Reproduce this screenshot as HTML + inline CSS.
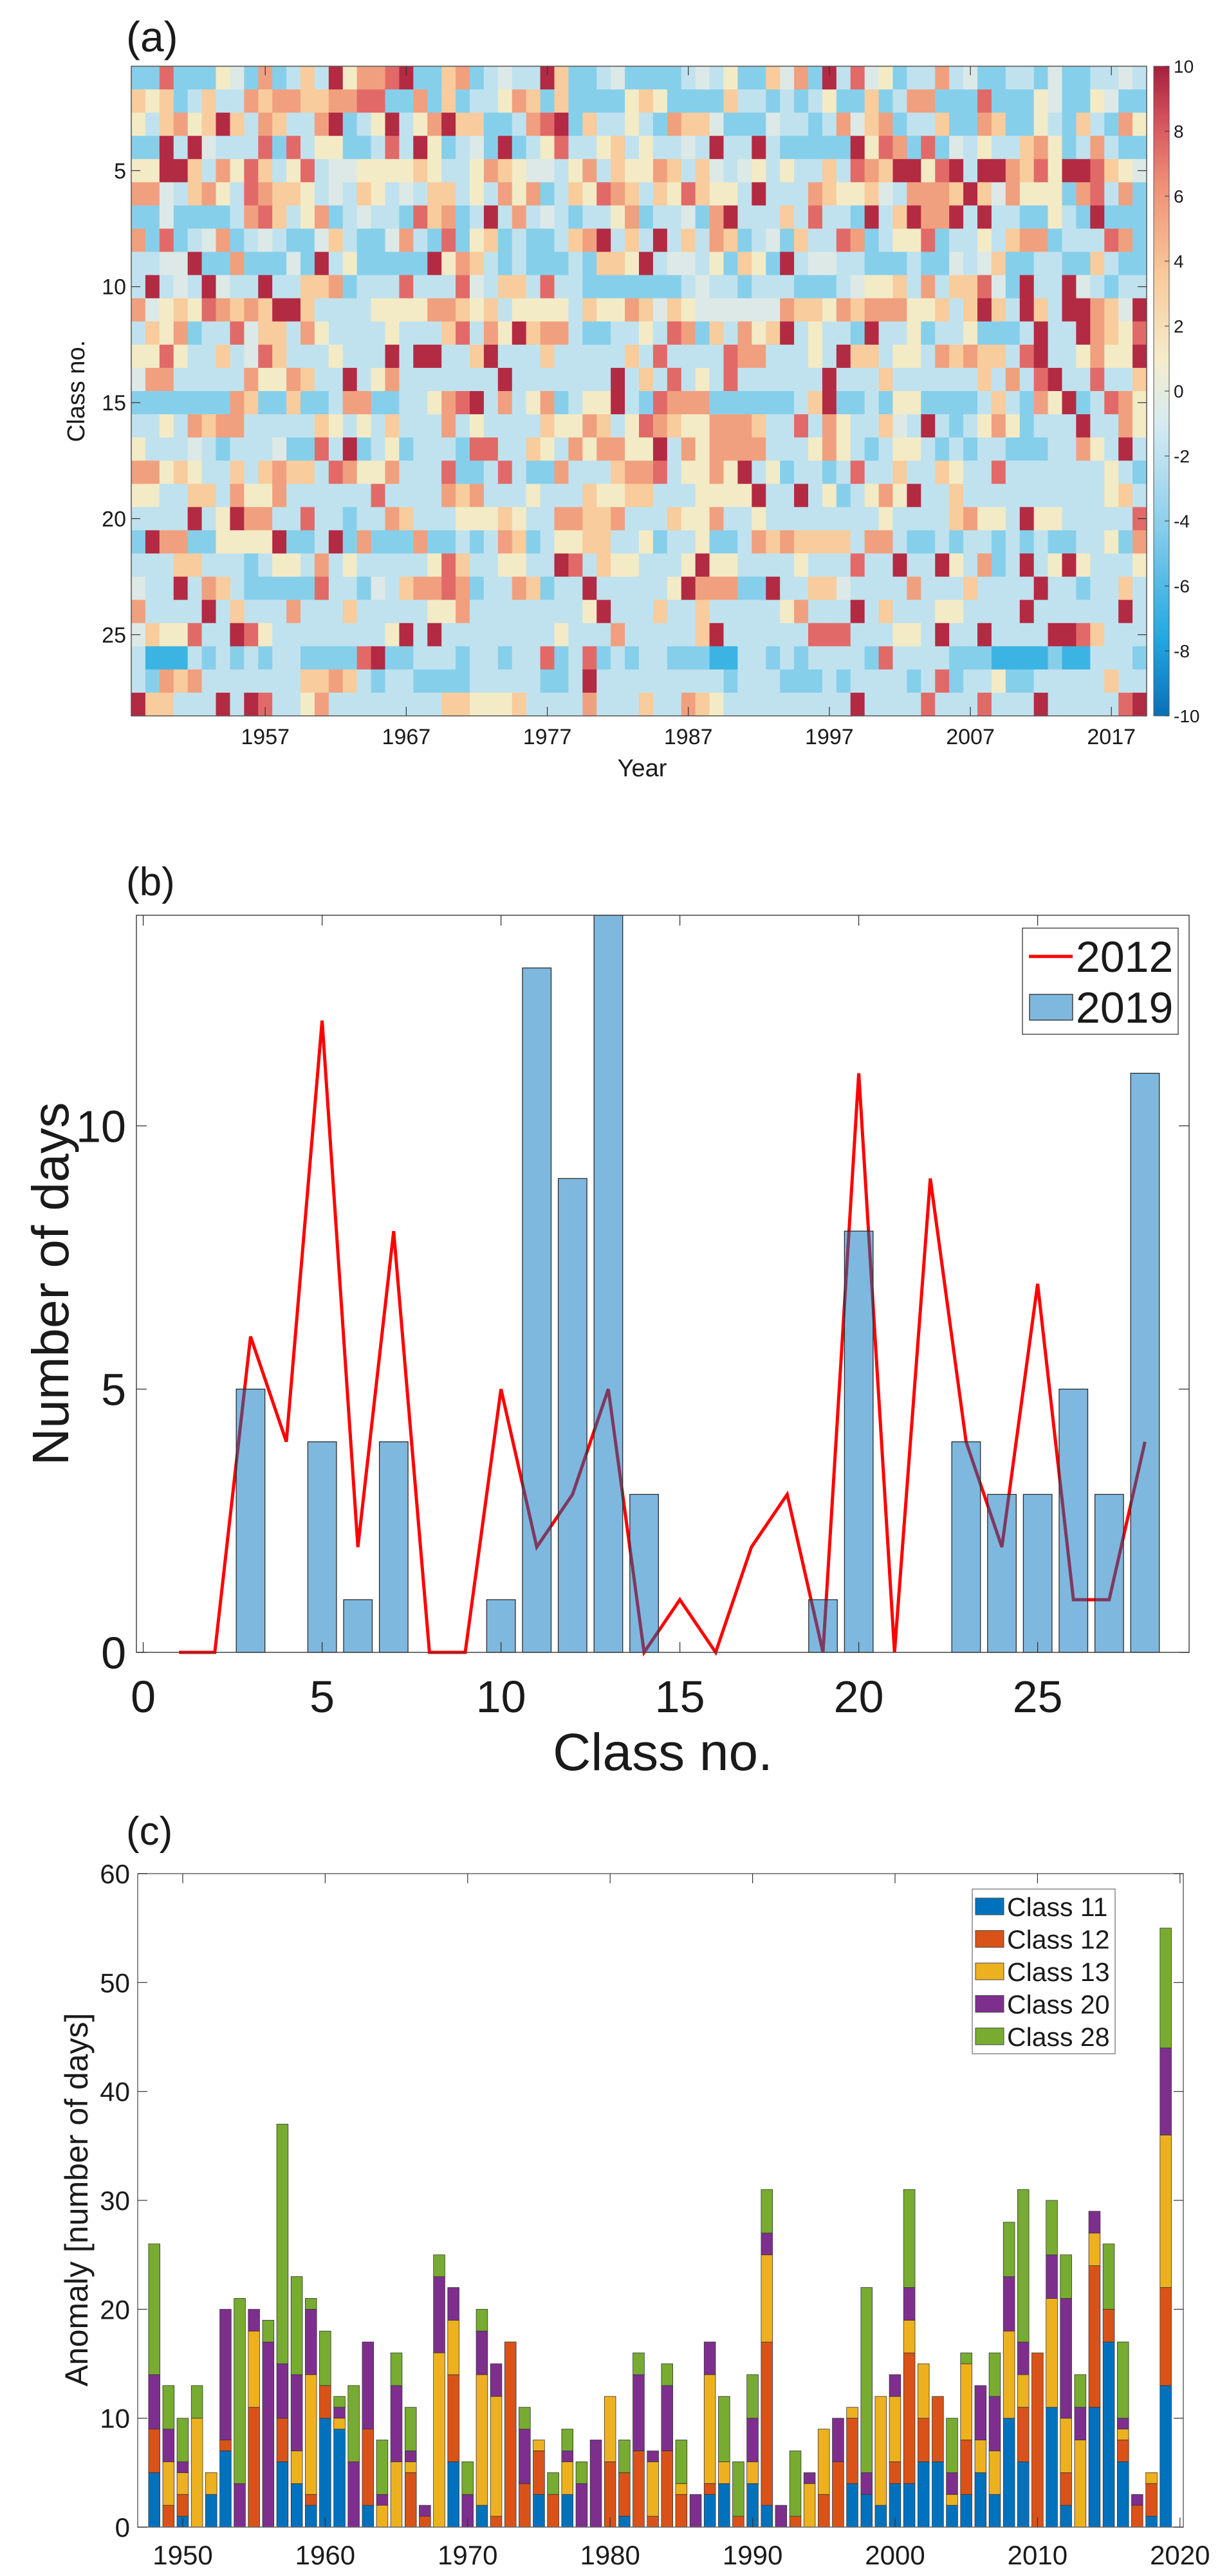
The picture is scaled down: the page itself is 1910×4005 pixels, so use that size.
<!DOCTYPE html>
<html><head><meta charset="utf-8"><style>
html,body{margin:0;padding:0;background:#fff}
svg{display:block}
text{font-family:"Liberation Sans",sans-serif;fill:#1a1a1a}
</style></head><body>
<svg id="fig" width="1910" height="4005" viewBox="0 0 1910 4005" xmlns="http://www.w3.org/2000/svg">
<defs>
<linearGradient id="cbgrad" x1="0" y1="1" x2="0" y2="0">
<stop offset="0" stop-color="#0a6fb8"/><stop offset="0.12" stop-color="#22a8e0"/><stop offset="0.3" stop-color="#8ed0ec"/>
<stop offset="0.45" stop-color="#d6ebf1"/><stop offset="0.55" stop-color="#f5eccb"/><stop offset="0.68" stop-color="#f8c99a"/>
<stop offset="0.82" stop-color="#ee8f76"/><stop offset="0.92" stop-color="#d4505a"/><stop offset="1" stop-color="#a51f3c"/>
</linearGradient>
</defs>
<g id="pa"></g>
<g id="pb"></g>
<g id="pc"></g>
</svg>
<script>
// ---------- Panel (a) data ----------
const heatYears = Array.from({length:72},(_,i)=>1948+i);
const heatXTicks = [1957,1967,1977,1987,1997,2007,2017];
const heatYTicks = [5,10,15,20,25];
const cbTicks = [10,8,6,4,2,0,-2,-4,-6,-8,-10];
// level codes per class row (1..28), 72 years each
const heatRows = [
"BBrBBBywBoBbpbRyoorRBBpoBbwbbRpBBbwBBBBbwbyBBpwoBRbrwyBbbobwBBbbBwBBbbwb",
"pypBbpbbopooppoorrBBoBpBbbyopBpBBBBypyBBBBpbbBbBbyBBpBbooBBBrBBBywBBywBB",
"ybpoypRpbopbboRBbyRbyoRppBBborRBpbbybBoppwBBBwbbBbowpoBbbpBBopBBybBpbBoy",
"BBRbRwbbbrBrbyyBBbrbRyBbwBRBbyrbbypbybbwbRbbRbBBBBBRyroBrBwbybbpoyBbobBB",
"yyRRpboyrpbyrbwwyyyypybbyopywwbyobpyyopbpwbwybybbpbropRRyrRbRRopryRRrpyw",
"oowbpoybroppybwbpybwbppbyboyoBbpyropbpyrpyybRbbbopyypwbooopRpwoyyyBorboB",
"BBwBBBBborpbyoBbwbbBrpoBbRbobwbBbbyoBbbwBoRbbbpbrbbBRbpRooRbRbbBBybBRBBB",
"oBrBbwoBbwbBBwpbBBwobBrBypBbBBbpoRbpbRbpbopBbwBpbbroBbyyrBbbybpooBbbbroB",
"bbwwRBBoBBBwBRbyBBBBBRyopbBbBBBbBppyRbwwbyBpyBRbwwbbBBBbBBwbwpBBbbBBpbBB",
"bRbwbRwbbRbbppoBbbbrbbbrwbppbrbbBBBBBBBbwbbBbbbBBBbwyypbobpprwBRbbRwbBbb",
"owypyropopRRpbbbbyyyyoopypbyyyybpyyopwpywwwwwwoppyopoooyypbpRpbRpbRRopwR",
"bpyoBbbrwppboybbbbybbbprboyRpoobBBbbybroBpboypRbybbBRbbyBbbyBBBbRbbRopyr",
"yyrybbpbwrpbbbybbbRbRRbbpRbbbpbbbbbpbrbbbbroobbbybRppbyybopoppbrRbbyoyyR",
"woobbbbboyyopbbRbyobbbbbbbRbbbbbbbRbpbrbybrbbbbbbRbbbpbbbbbbpbobrRbbrbbp",
"BBBBBBBopBBpBBbooBBbbyorRbobyoBbyyRbBroooBBBBBBbpRBBbByyBBBBbpbBoyRBbroy",
"bbybopoobbbbbpybybpbbbobybbbbpyyopbyropyyooopbbrboybbpwbRbBbyoyBbbbRbboy",
"ybbbwbBbbbwBBrbRBbyBbbbBrrbbpyboyooyyRboyoooobbbyoybBbyybBbBbbBBBbboybRb",
"ooypybbpbpoppbroyyobbbrBBbrbBBobbbpoorbyyoyRbyBbbBbrbbpbbpybbrbbbbbbbybB",
"yybbppboyyobbbbbbrbbbbopobbbybbbpyyppbbbyyyyRbbRbyBbyoyRbbpbbbbbbbbbbypb",
"bbbbRbyRoobbrbbBbbopbbbyyypybbooppobbbpyyobbybbbbbbbbybbbbpoyybRyybbbbbr",
"BRooBByyyyRBBbRBoBBBoBBbBbopBbyyppbbyBbbyBBbopoppppboobBBbBbbBbBbBBbbyBo",
"bbbppbbbBbyybobybbbbbyrpbbyybbRrbpyybbbyRyybbbbybbbrbbRbbRyboBbRbyRybbby",
"wbbRbopbBBBBBrbbBwbpooroBbbopBbbRbbbbbyRoooBBRbbppwbbbbobbbpbbbbRbbBbbpb",
"obbbbRbpbbbobbbpbbbbbyyobbbbbbbbyRbbbpbbpbbbbbyobbbRbpbbbyybbbbRbbbbbbRb",
"wpyyrbbRrybbbbbbbbyRbRbbbbbbbbybbbobbbbbpRbbbbbbrrrbbbyybRbbRbbbbRRrpbbb",
"bCCCbBbBbBbbBBBBrRBBbbbBbbBbbrBbrBbBbbBBBCCbbBbBbbbbBrbbbbBBBCCCCBCCbbbB",
"bBopobbbbbbbppopbBbbBBBBbbbbbBBbRbbbbbbbbbBbbbBBBbBbbbbBbrBbbyBBbbbbbpbb",
"RppbbbRbRrbbyobbbbbbbbppyyypbbbbobbbpbbopybbbbbbbbbRbbbbrbbbrbbbRbbbbbrR"
];
const heatColor = {C:"#3bb4e4",B:"#86cfeb",b:"#c0e2ee",w:"#dde9e6",y:"#f3ebc6",p:"#f8cc9c",o:"#f0a07e",r:"#e16a68",R:"#b32a43"};

// ---------- Panel (b) data ----------
const bClasses = Array.from({length:28},(_,i)=>i+1);
const days2019 = [0,0,5,0,4,1,4,0,0,1,13,9,14,3,0,0,0,0,1,8,0,0,4,3,3,5,3,11];
const days2012 = [0,0,6,4,12,2,8,0,0,5,2,3,5,0,1,0,2,3,0,11,0,9,4,2,7,1,1,4];
const bXTicks = [0,5,10,15,20,25];
const bYTicks = [0,5,10];

// ---------- Panel (c) data ----------
const cYears = Array.from({length:72},(_,i)=>1948+i);
const cClass11 = [5,0,1,0,3,7,0,0,0,6,4,2,10,9,0,2,0,0,0,0,0,6,0,2,0,0,0,3,0,3,0,0,0,1,0,0,0,0,0,3,4,0,4,2,0,0,0,0,0,4,3,2,4,4,6,6,2,3,5,3,10,6,0,11,2,0,11,17,6,0,1,13];
const cClass12 = [4,2,2,0,0,1,0,11,0,4,0,1,3,0,0,7,0,0,5,1,0,8,0,0,1,17,4,4,3,0,0,0,6,4,7,1,7,3,0,1,0,1,0,15,0,1,0,3,6,6,0,0,2,12,4,6,0,5,0,0,0,5,16,0,3,0,13,3,2,2,3,9];
const cClass13 = [0,4,2,10,2,0,0,7,0,0,3,11,0,1,0,0,2,6,1,0,16,5,0,12,11,0,0,1,0,3,0,0,6,0,0,5,0,1,0,10,2,0,2,8,0,0,4,6,0,1,0,10,6,3,5,0,1,7,3,4,8,3,0,10,5,8,3,0,1,0,1,14];
const cClass20 = [5,3,1,0,0,12,4,2,17,5,7,6,0,1,6,8,1,7,1,1,7,3,3,4,3,0,5,0,0,1,4,8,0,0,7,1,6,0,3,3,0,0,4,2,2,0,1,0,4,0,2,0,2,3,0,0,2,0,5,5,5,3,0,4,11,3,2,0,1,1,0,8];
const cClass28 = [12,4,4,3,0,0,17,0,2,22,9,1,5,1,7,0,5,3,4,0,2,0,3,2,0,0,2,0,2,2,2,0,0,3,2,0,2,4,0,0,6,5,4,4,0,6,0,0,0,0,17,0,0,9,0,0,5,1,0,4,5,14,0,5,4,3,0,6,7,0,0,11];
const cXTicks = [1950,1960,1970,1980,1990,2000,2010,2020];
const cYTicks = [0,10,20,30,40,50,60];
const cSeriesNames = ["Class 11","Class 12","Class 13","Class 20","Class 28"];

const NS="http://www.w3.org/2000/svg";
function mk(parent,tag,attrs,txt){const e=document.createElementNS(NS,tag);for(const k in attrs)e.setAttribute(k,attrs[k]);if(txt!==undefined)e.textContent=txt;parent.appendChild(e);return e;}

// ===== Panel (a) =====
(function(){
  const g=document.getElementById('pa');
  const L=204,R=1782,T=103,B=1113;
  const cw=(R-L)/heatYears.length, rh=(B-T)/heatRows.length;
  const xA=yr=>L+(yr-1948)*cw, yA=c=>T+(c-1)*rh;
  heatRows.forEach((row,ri)=>{
    heatYears.forEach((yr,ci)=>{
      const ch=row[ci%row.length];
      const r=mk(g,'rect',{x:xA(yr).toFixed(2),y:yA(ri+1).toFixed(2),width:(cw+0.6).toFixed(2),height:(rh+0.6).toFixed(2),fill:heatColor[ch]||heatColor.b});
      
      
    });
  });
  const fr=mk(g,'rect',{x:L,y:T,width:R-L,height:B-T,fill:'none',stroke:'#555','stroke-width':1.5});
  
  heatXTicks.forEach(yr=>{
    const x=xA(yr)+cw/2;
    mk(g,'line',{x1:x,y1:B,x2:x,y2:B-14,stroke:'#333','stroke-width':1.2});
    mk(g,'line',{x1:x,y1:T,x2:x,y2:T+14,stroke:'#333','stroke-width':1.2});
    const t=mk(g,'text',{x:x,y:1157,'font-size':34,'text-anchor':'middle'},yr);
    
  });
  heatYTicks.forEach(c=>{
    const y=yA(c)+rh/2;
    mk(g,'line',{x1:L,y1:y,x2:L+14,y2:y,stroke:'#333','stroke-width':1.2});
    mk(g,'line',{x1:R,y1:y,x2:R-14,y2:y,stroke:'#333','stroke-width':1.2});
    const t=mk(g,'text',{x:196,y:y+12,'font-size':34,'text-anchor':'end'},c);
    
  });
  const cb=mk(g,'rect',{x:1793,y:T,width:24,height:B-T,fill:'url(#cbgrad)',stroke:'#555','stroke-width':1});
  
  cbTicks.forEach(v=>{
    const y=T+(10-v)/20*(B-T);
    mk(g,'line',{x1:1810,y1:y,x2:1817,y2:y,stroke:'#333','stroke-width':1});
    const t=mk(g,'text',{x:1824,y:y+10,'font-size':28},v);
    
  });
  let t=mk(g,'text',{x:196,y:80,'font-size':66},'(a)');
  t=mk(g,'text',{x:998,y:1207,'font-size':38,'text-anchor':'middle'},'Year');
  t=mk(g,'text',{x:0,y:0,'font-size':38,'text-anchor':'middle',transform:'translate(131,608) rotate(-90)'},'Class no.');
})();

// ===== Panel (b) =====
(function(){
  const g=document.getElementById('pb');
  const L=212,R=1848,T=1423,B=2569;
  const xB=v=>222.6+v*55.6, yB=v=>B-v*(B-T)/14;
  mk(g,'rect',{x:L,y:T,width:R-L,height:B-T,fill:'#fff'});
  const pts=bClasses.map((c,i)=>xB(c).toFixed(1)+','+yB(days2012[i]).toFixed(1)).join(' ');
  const ln=mk(g,'polyline',{points:pts,fill:'none',stroke:'#ff0000','stroke-width':5,'stroke-linejoin':'miter'});
  
  bClasses.forEach((c,i)=>{
    const v=days2019[i]; if(v<=0) return;
    const w=0.8*55.6;
    const r=mk(g,'rect',{x:(xB(c)-w/2).toFixed(1),y:yB(v).toFixed(1),width:w.toFixed(1),height:(yB(0)-yB(v)).toFixed(1),fill:'rgba(0,114,189,0.5)',stroke:'#2b2b2b','stroke-width':1.3});
    
  });
  mk(g,'rect',{x:L,y:T,width:R-L,height:B-T,fill:'none',stroke:'#444','stroke-width':1.5});
  bXTicks.forEach(v=>{
    const x=xB(v);
    mk(g,'line',{x1:x,y1:B,x2:x,y2:B-16,stroke:'#333','stroke-width':1.3});
    mk(g,'line',{x1:x,y1:T,x2:x,y2:T+16,stroke:'#333','stroke-width':1.3});
    const t=mk(g,'text',{x:x,y:2662,'font-size':70,'text-anchor':'middle'},v);
    
  });
  bYTicks.forEach(v=>{
    const y=yB(v);
    mk(g,'line',{x1:L,y1:y,x2:L+16,y2:y,stroke:'#333','stroke-width':1.3});
    mk(g,'line',{x1:R,y1:y,x2:R-16,y2:y,stroke:'#333','stroke-width':1.3});
    const t=mk(g,'text',{x:196,y:y+25,'font-size':70,'text-anchor':'end'},v);
    
  });
  const lg=mk(g,'g',{});
  mk(lg,'rect',{x:1589,y:1443,width:242,height:165,fill:'#fff',stroke:'#333','stroke-width':1.3});
  mk(lg,'line',{x1:1599,y1:1487,x2:1667,y2:1487,stroke:'#ff0000','stroke-width':5});
  mk(lg,'rect',{x:1600,y:1546,width:67,height:40,fill:'rgba(0,114,189,0.5)',stroke:'#2b2b2b','stroke-width':1.3});
  let t=mk(lg,'text',{x:1672,y:1511,'font-size':68},'2012');
  t=mk(lg,'text',{x:1672,y:1590,'font-size':68},'2019');
  t=mk(g,'text',{x:196,y:1392,'font-size':62},'(b)');
  t=mk(g,'text',{x:1030,y:2752,'font-size':82,'text-anchor':'middle'},'Class no.');
  t=mk(g,'text',{x:0,y:0,'font-size':80,'text-anchor':'middle',transform:'translate(106,1996) rotate(-90)'},'Number of days');
})();

// ===== Panel (c) =====
(function(){
  const g=document.getElementById('pc');
  const L=214,R=1839,T=2913,B=3929;
  const xC=yr=>284+(yr-1950)*22.14, yC=v=>B-v*(B-T)/60;
  const series=[cClass11,cClass12,cClass13,cClass20,cClass28];
  const cols=['#0072bd','#d95319','#edb120','#7e2f8e','#77ac30'];
  mk(g,'rect',{x:L,y:T,width:R-L,height:B-T,fill:'#fff'});
  cYears.forEach((yr,i)=>{
    let base=0;
    series.forEach((s,k)=>{
      const v=s[i]; if(v<=0) return;
      const w=0.8*22.14;
      const r=mk(g,'rect',{x:(xC(yr)-w/2).toFixed(1),y:yC(base+v).toFixed(1),width:w.toFixed(1),height:(yC(base)-yC(base+v)).toFixed(1),fill:cols[k],stroke:'#333','stroke-width':0.8});
      
      base+=v;
    });
  });
  mk(g,'rect',{x:L,y:T,width:R-L,height:B-T,fill:'none',stroke:'#666','stroke-width':1.5});
  cXTicks.forEach(yr=>{
    const x=xC(yr);
    mk(g,'line',{x1:x,y1:B,x2:x,y2:B-15,stroke:'#333','stroke-width':1.2});
    mk(g,'line',{x1:x,y1:T,x2:x,y2:T+15,stroke:'#333','stroke-width':1.2});
    const t=mk(g,'text',{x:x,y:3987,'font-size':42,'text-anchor':'middle'},yr);
    
  });
  cYTicks.forEach(v=>{
    const y=yC(v);
    mk(g,'line',{x1:L,y1:y,x2:L+15,y2:y,stroke:'#333','stroke-width':1.2});
    mk(g,'line',{x1:R,y1:y,x2:R-15,y2:y,stroke:'#333','stroke-width':1.2});
    const t=mk(g,'text',{x:202,y:y+15,'font-size':42,'text-anchor':'end'},v);
    
  });
  const lg=mk(g,'g',{});
  mk(lg,'rect',{x:1511,y:2937,width:222,height:256,fill:'#fff',stroke:'#777','stroke-width':1.3});
  cSeriesNames.forEach((nm,k)=>{
    const cy=2964+k*50.5;
    mk(lg,'rect',{x:1516,y:cy-13,width:44,height:26,fill:cols[k],stroke:'#444','stroke-width':1});
    const t=mk(lg,'text',{x:1565,y:cy+15,'font-size':41},nm);
    
  });
  let t=mk(g,'text',{x:196,y:2868,'font-size':62},'(c)');
  t=mk(g,'text',{x:0,y:0,'font-size':50,'text-anchor':'middle',transform:'translate(136,3420) rotate(-90)'},'Anomaly [number of days]');
})();
</script>
</body></html>
